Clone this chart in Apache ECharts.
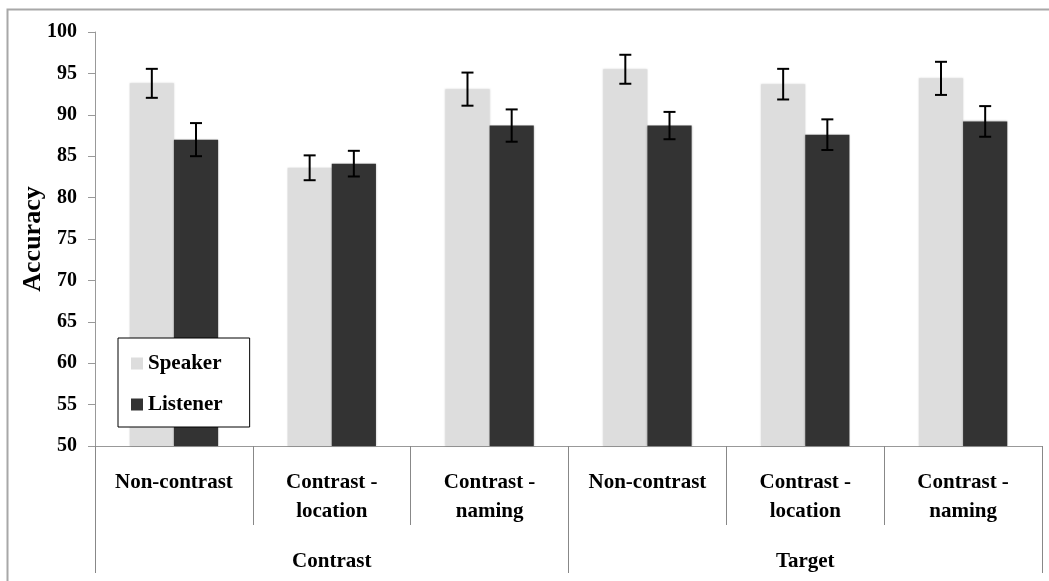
<!DOCTYPE html>
<html>
<head>
<meta charset="utf-8">
<script src="https://cdn.jsdelivr.net/npm/echarts@6/dist/echarts.min.js"></script>
<style>
html,body{margin:0;padding:0;background:#fff;}
#chart{width:1049px;height:581px;}
</style>
</head>
<body>
<div id="chart"></div>
<script>
const categories = ['Non-contrast', 'Contrast -\nlocation', 'Contrast -\nnaming', 'Non-contrast', 'Contrast -\nlocation', 'Contrast -\nnaming'];
const groups = ['Contrast', 'Target'];
const speaker = [93.8, 83.6, 93.1, 95.5, 93.7, 94.4];
const listener = [87.0, 84.1, 88.7, 88.7, 87.6, 89.2];
const speakerErr = [1.75, 1.5, 2.0, 1.75, 1.85, 2.0];
const listenerErr = [2.0, 1.55, 1.95, 1.65, 1.85, 1.85];

const FONT = 'Liberation Serif';
const BAR_FRAC = 0.28;

function errData(vals, errs, sign) {
  return vals.map((v, i) => [i, v, errs[i], sign]);
}

function renderErr(params, api) {
  const idx = api.value(0), v = api.value(1), e = api.value(2), sign = api.value(3);
  const band = api.size([1, 0])[0];
  const cx = api.coord([idx, v])[0] + sign * band * BAR_FRAC / 2;
  const yTop = api.coord([idx, v + e])[1];
  const yBot = api.coord([idx, v - e])[1];
  const cap = 6;
  const style = {stroke: '#000', lineWidth: 2};
  return {
    type: 'group',
    children: [
      {type: 'line', shape: {x1: cx, y1: yTop, x2: cx, y2: yBot}, style: style},
      {type: 'line', shape: {x1: cx - cap, y1: yTop, x2: cx + cap, y2: yTop}, style: style},
      {type: 'line', shape: {x1: cx - cap, y1: yBot, x2: cx + cap, y2: yBot}, style: style}
    ]
  };
}

const chart = echarts.init(document.getElementById('chart'), null, {renderer: 'canvas'});
chart.setOption({
  animation: false,
  backgroundColor: '#fff',
  textStyle: {fontFamily: FONT},
  graphic: [{
    type: 'rect', left: 5, top: 7, silent: true, z: -10,
    shape: {x: 0, y: 0, width: 1100, height: 1000},
    style: {fill: 'none', stroke: '#a8a8a8', lineWidth: 2}
  }],
  grid: {left: 95, right: 7, top: 32, bottom: 135, containLabel: false},
  legend: {
    orient: 'vertical', left: 118, top: 338,
    backgroundColor: '#fff', borderColor: '#000', borderWidth: 1, borderRadius: 0,
    padding: [15, 27, 12, 13],
    itemWidth: 12, itemHeight: 12, itemGap: 20,
    icon: 'rect',
    data: ['Speaker', 'Listener'],
    textStyle: {fontFamily: FONT, fontWeight: 'bold', fontSize: 21, color: '#000'}
  },
  xAxis: [{
    type: 'category', data: categories, position: 'bottom', offset: 0,
    axisLine: {show: true, lineStyle: {color: '#999', width: 1}},
    axisTick: {show: true, interval: 0, length: 79, lineStyle: {color: '#888', width: 1}},
    axisLabel: {interval: 0, fontFamily: FONT, fontWeight: 'bold', fontSize: 21, lineHeight: 29, color: '#000', margin: 22}
  }, {
    type: 'category', data: groups, position: 'bottom', offset: 0,
    axisLine: {show: false},
    axisTick: {show: true, interval: 0, length: 127, lineStyle: {color: '#888', width: 1}},
    axisLabel: {interval: 0, fontFamily: FONT, fontWeight: 'bold', fontSize: 21, lineHeight: 24, color: '#000', margin: 104}
  }],
  yAxis: {
    type: 'value', min: 50, max: 100, interval: 5,
    name: 'Accuracy', nameLocation: 'middle', nameGap: 49, nameRotate: 90, nameMoveOverlap: false,
    nameTextStyle: {fontFamily: FONT, fontWeight: 'bold', fontSize: 26, color: '#000'},
    axisLine: {show: true, lineStyle: {color: '#999', width: 1}},
    axisTick: {show: true, length: 7, lineStyle: {color: '#999'}},
    axisLabel: {fontFamily: FONT, fontWeight: 'bold', fontSize: 20, color: '#000', margin: 18},
    splitLine: {show: false}
  },
  series: [{
    name: 'Speaker', type: 'bar', data: speaker, barWidth: (BAR_FRAC * 100) + '%', barGap: '0%',
    itemStyle: {color: '#dddddd', shadowBlur: 2, shadowColor: 'rgba(0,0,0,0.15)'}
  }, {
    name: 'Listener', type: 'bar', data: listener, barWidth: (BAR_FRAC * 100) + '%', barGap: '0%',
    itemStyle: {color: '#333333', shadowBlur: 2, shadowColor: 'rgba(0,0,0,0.3)'}
  }, {
    name: 'SpeakerErr', type: 'custom', renderItem: renderErr, data: errData(speaker, speakerErr, -1),
    encode: {x: 0, y: 1}, z: 5, silent: true
  }, {
    name: 'ListenerErr', type: 'custom', renderItem: renderErr, data: errData(listener, listenerErr, 1),
    encode: {x: 0, y: 1}, z: 5, silent: true
  }]
});
</script>
</body>
</html>
